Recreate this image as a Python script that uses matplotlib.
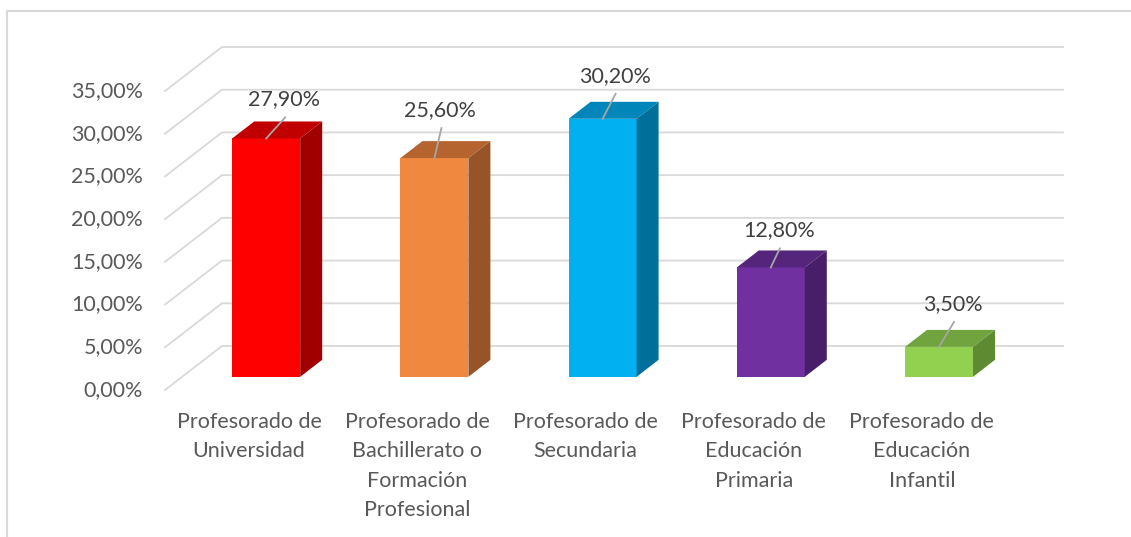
import matplotlib.pyplot as plt
from matplotlib.lines import Line2D
from matplotlib.patches import Polygon

categories = [
    "Profesorado de\nUniversidad",
    "Profesorado de\nBachillerato o\nFormación\nProfesional",
    "Profesorado de\nSecundaria",
    "Profesorado de\nEducación\nPrimaria",
    "Profesorado de\nEducación\nInfantil",
]
values = [27.9, 25.6, 30.2, 12.8, 3.5]
y_ticks = [0, 5, 10, 15, 20, 25, 30, 35]

front_colors = ["#FF0000", "#F0883F", "#00B0F0", "#7030A0", "#92D050"]
top_colors = ["#C00000", "#B6642F", "#0086B8", "#55257B", "#71A43E"]
side_colors = ["#A00000", "#975428", "#00709A", "#471F68", "#5E8A31"]

# data label offsets from the bar's front top edge, in pixels (right, up)
label_dx = [18, 6, 12, 8, 14]
label_dy = [39, 48, 43, 37, 43]

GRID = "#D9D9D9"
TEXT = "#595959"


def pct(v):
    return f"{v:.2f}%".replace(".", ",")


def main():
    plt.rcParams["font.family"] = ["Lato", "DejaVu Sans"]
    fig = plt.figure(figsize=(11.31, 5.37), dpi=100)
    ax = fig.add_axes([0, 0, 1, 1])
    ax.axis("off")

    # pixel scales of the front plane
    px_x, px_y = 168.2, 8.543
    ax.set_xlim(-165 / px_x, (1131 - 165) / px_x)
    ax.set_ylim((390 - 537) / px_y, 390 / px_y)

    # full depth of the 3d box and the slice the bars take
    dx, dy = 57 / px_x, 44 / px_y
    d0, d1 = 0.3, 0.686
    n = len(values)

    for v in y_ticks:
        ax.plot([0, dx, n + dx], [v, v + dy, v + dy], color=GRID, lw=1.3,
                zorder=1)
        ax.text(-22 / px_x, v, pct(v), ha="right", va="center",
                fontsize=15.5, color=TEXT)

    w = 68 / px_x
    xs = [i + 0.5 + d0 * dx for i in range(n)]
    ax.bar(xs, values, w, bottom=d0 * dy, color=front_colors, zorder=3,
           linewidth=0)

    ddx, ddy = (d1 - d0) * dx, (d1 - d0) * dy
    for x, v, tc, sc in zip(xs, values, top_colors, side_colors):
        y0, y1 = d0 * dy, d0 * dy + v
        left, right = x - w / 2, x + w / 2
        ax.add_patch(Polygon([(left, y1), (right, y1), (right + ddx, y1 + ddy),
                              (left + ddx, y1 + ddy)], closed=True,
                             facecolor=tc, lw=0, zorder=3))
        ax.add_patch(Polygon([(right, y0), (right + ddx, y0 + ddy),
                              (right + ddx, y1 + ddy), (right, y1)],
                             closed=True, facecolor=sc, lw=0, zorder=3))

    for x, v, ox, oy in zip(xs, values, label_dx, label_dy):
        top = d0 * dy + v
        lx, ly = x + ox / px_x, top + oy / px_y
        ax.plot([x, lx + 1 / px_x], [top, ly - 18 / px_y], color="#A6A6A6",
                lw=1.3, zorder=4)
        ax.text(lx, ly, pct(v), ha="center", va="center", fontsize=15.5,
                color="#404040", zorder=5)

    for i, c in enumerate(categories):
        ax.text(i + 0.5, -22 / px_y, c, ha="center", va="top", fontsize=15.5,
                color=TEXT, linespacing=1.58)

    # chart area border (top and left only visible)
    fig.add_artist(Line2D([7 / 1131, 7 / 1131, 1], [0, 1 - 11 / 537,
                          1 - 11 / 537], color=GRID, lw=1.5,
                          transform=fig.transFigure))

    fig.savefig("out.png", dpi=100)


if __name__ == "__main__":
    main()
